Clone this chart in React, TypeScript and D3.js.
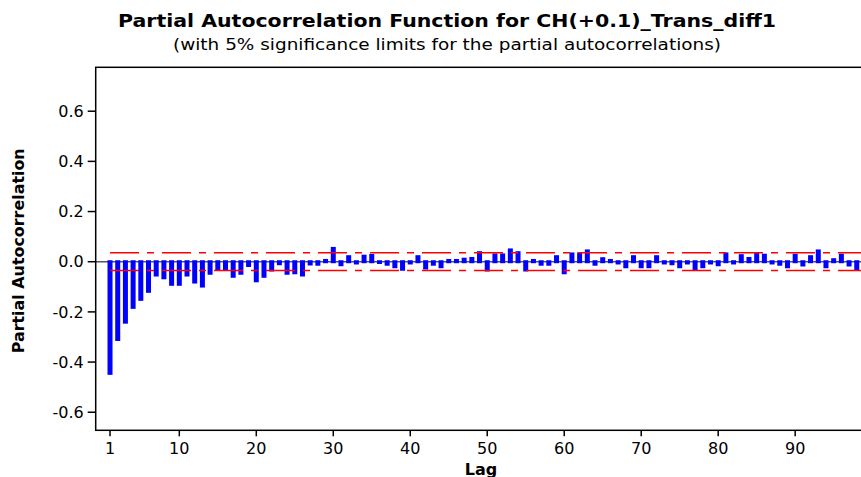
import React from "react";
import * as d3 from "d3";

const lags: number[] = Array.from({ length: 98 }, (_, i) => i + 1);
const pacf: number[] = [
  -0.445, -0.31, -0.241, -0.182, -0.15, -0.118, -0.053, -0.064, -0.09, -0.09,
  -0.053, -0.081, -0.097, -0.046, -0.03, -0.028, -0.058, -0.046, -0.015, -0.076,
  -0.058, -0.033, -0.008, -0.046, -0.044, -0.053, -0.009, -0.01, 0.005, 0.053,
  -0.012, 0.02, -0.005, 0.022, 0.025, -0.003, -0.01, -0.02, -0.03, -0.005,
  0.02, -0.025, -0.01, -0.02, 0.005, 0.005, 0.01, 0.013, 0.036, -0.033,
  0.027, 0.027, 0.047, 0.036, -0.033, 0.005, -0.01, -0.01, 0.02, -0.044,
  0.031, 0.031, 0.043, -0.01, 0.012, 0.005, -0.005, -0.02, 0.02, -0.02,
  -0.02, 0.02, -0.005, -0.008, -0.02, -0.005, -0.03, -0.02, -0.005, -0.012,
  0.031, -0.005, 0.024, 0.013, 0.031, 0.026, -0.005, -0.01, -0.02, 0.026,
  -0.013, 0.02, 0.043, -0.02, 0.008, 0.026, -0.013, -0.03,
];
const sigLimit = 0.0353;
const yTicks: number[] = [-0.6, -0.4, -0.2, 0.0, 0.2, 0.4, 0.6];
const xTicks: number[] = [1, 10, 20, 30, 40, 50, 60, 70, 80, 90];
const title = "Partial Autocorrelation Function for CH(+0.1)_Trans_diff1";
const subtitle = "(with 5% significance limits for the partial autocorrelations)";
const xLabel = "Lag";
const yLabel = "Partial Autocorrelation";

const W = 861;
const H = 477;
const L = 95.7;
const R = 866;
const T = 67.3;
const B = 430.3;
const font = "'DejaVu Sans', Verdana, sans-serif";

export default function App() {
  const x = d3.scaleLinear().domain([-0.86, 99.2]).range([L, R]);
  const y = d3.scaleLinear().domain([-0.672, 0.775]).range([B, T]);
  const y0 = y(0);
  const bw = 5;
  const cap = 1.5;
  const fmt = (v: number) => (Math.abs(v) < 1e-9 ? "0.0" : v.toFixed(1));

  return (
    <svg
      width={W}
      height={H}
      style={{ position: "absolute", left: 0, top: 0, background: "#fff" }}
      fontFamily={font}
    >
      <rect x={0} y={0} width={W} height={H} fill="#fff" />
      <text
        x={447}
        y={27}
        textAnchor="middle"
        fontSize={18}
        fontWeight="bold"
        fill="#000"
        textLength={658}
        lengthAdjust="spacingAndGlyphs"
      >
        {title}
      </text>
      <text
        x={447}
        y={50}
        textAnchor="middle"
        fontSize={15.5}
        fill="#000"
        textLength={548}
        lengthAdjust="spacingAndGlyphs"
      >
        {subtitle}
      </text>

      {/* zero line */}
      <line x1={L} x2={R} y1={y0} y2={y0} stroke="#555" strokeWidth={1.5} />

      {/* bars */}
      {lags.map((lag, i) => {
        const v = pacf[i];
        const yv = y(v);
        const top = Math.min(yv, y0) - cap;
        const h = Math.abs(yv - y0) + 2 * cap;
        return (
          <rect key={lag} x={x(lag) - bw / 2} y={top} width={bw} height={h} fill="#0000ff" />
        );
      })}

      {/* significance limits */}
      {[sigLimit, -sigLimit].map((s) => (
        <line
          key={s}
          x1={x(1)}
          x2={R}
          y1={y(s)}
          y2={y(s)}
          stroke="#ff0000"
          strokeWidth={1.5}
          strokeDasharray="29 8 7 8"
        />
      ))}

      {/* frame */}
      <rect x={L} y={T} width={R - L} height={B - T} fill="none" stroke="#000" strokeWidth={1.5} />

      {/* y axis ticks */}
      {yTicks.map((t) => (
        <g key={t}>
          <line x1={L - 8} x2={L} y1={y(t)} y2={y(t)} stroke="#000" strokeWidth={1.5} />
          <text x={L - 12} y={y(t)} dy="0.36em" textAnchor="end" fontSize={16} fill="#000">
            {fmt(t)}
          </text>
        </g>
      ))}

      {/* x axis ticks */}
      {xTicks.map((t) => (
        <g key={t}>
          <line x1={x(t)} x2={x(t)} y1={B} y2={B + 6} stroke="#000" strokeWidth={1.5} />
          <text x={x(t)} y={B + 24} textAnchor="middle" fontSize={16} fill="#000">
            {t}
          </text>
        </g>
      ))}

      <text x={481} y={475} textAnchor="middle" fontSize={16} fontWeight="bold" fill="#000">
        {xLabel}
      </text>
      <text
        transform={`translate(24,${(T + B) / 2 + 2}) rotate(-90)`}
        textAnchor="middle"
        fontSize={15}
        fontWeight="bold"
        fill="#000"
        textLength={205}
        lengthAdjust="spacingAndGlyphs"
      >
        {yLabel}
      </text>
    </svg>
  );
}
